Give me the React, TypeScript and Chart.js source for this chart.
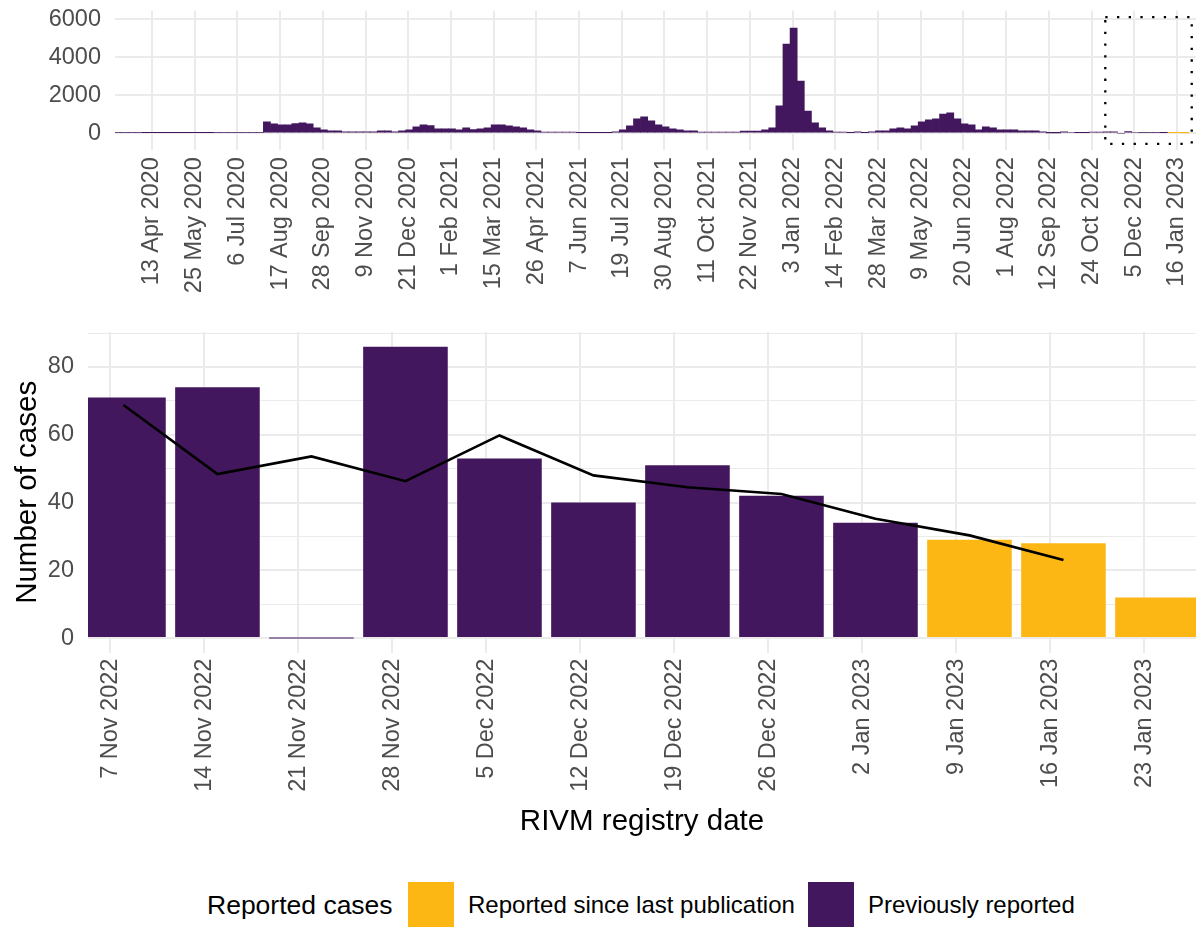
import React, { useEffect, useRef } from 'react';
import { Chart, registerables } from 'chart.js';

Chart.register(...registerables);

// ---------------- data ----------------
const MONTHS = ['Jan', 'Feb', 'Mar', 'Apr', 'May', 'Jun', 'Jul', 'Aug', 'Sep', 'Oct', 'Nov', 'Dec'];

// Overview (weekly counts), first week starting 9 Mar 2020, up to the week of 31 Oct 2022
const TOP_FIRST_WEEK = '9 Mar 2020';
const TOP_HISTORY = [
  40, 45, 45, 40, 35, 35, 30, 30, 35, 35, 35, 30, 35, 35, 40, 40, 40, 45, 45, 50, 50,
  596, 491, 439, 439, 509, 544, 491, 281, 175, 123, 123, 70, 70, 70, 70, 70, 123, 123, 70, 123,
  175, 333, 439, 404, 228, 228, 228, 175, 281, 193, 228, 290, 440, 450, 386, 340, 281, 175, 123, 60,
  60, 60, 60, 60, 30, 30, 30, 25, 25, 70, 175, 386, 754, 860, 649, 439, 333, 228, 175, 123,
  123, 60, 60, 60, 60, 60, 60, 110, 110, 110, 175, 281, 1439, 4702, 5544, 2754, 1175, 544, 281, 123,
  60, 60, 30, 70, 30, 70, 123, 123, 228, 281, 228, 386, 596, 702, 754, 1017, 1070, 754, 491, 439,
  175, 333, 281, 175, 175, 175, 123, 123, 123, 70, 20, 20, 70, 55, 25, 25, 65, 65,
];

// Detail panel
const WEEK_LABELS = [
  '7 Nov 2022', '14 Nov 2022', '21 Nov 2022', '28 Nov 2022', '5 Dec 2022', '12 Dec 2022',
  '19 Dec 2022', '26 Dec 2022', '2 Jan 2023', '9 Jan 2023', '16 Jan 2023', '23 Jan 2023',
];
const PREVIOUSLY_REPORTED = [71, 74, 0, 86, 53, 40, 51, 42, 34, null, null, null];
const REPORTED_SINCE_LAST = [null, null, null, null, null, null, null, null, null, 29, 28, 12];
const TREND = [68.8, 48.4, 53.6, 46.3, 59.8, 48.0, 44.5, 42.5, 35.2, 30.3, 23.0, null];

const TOP_TICK_LABELS = [
  '13 Apr 2020', '25 May 2020', '6 Jul 2020', '17 Aug 2020', '28 Sep 2020', '9 Nov 2020',
  '21 Dec 2020', '1 Feb 2021', '15 Mar 2021', '26 Apr 2021', '7 Jun 2021', '19 Jul 2021',
  '30 Aug 2021', '11 Oct 2021', '22 Nov 2021', '3 Jan 2022', '14 Feb 2022', '28 Mar 2022',
  '9 May 2022', '20 Jun 2022', '1 Aug 2022', '12 Sep 2022', '24 Oct 2022', '5 Dec 2022',
  '16 Jan 2023',
];
const TOP_Y_MAJOR = [0, 2000, 4000, 6000];
const TOP_Y_MINOR = [1000, 3000, 5000];
const BOTTOM_Y_MAJOR = [0, 20, 40, 60, 80];
const BOTTOM_Y_MINOR = [10, 30, 50, 70, 90];

const LEGEND_TITLE = 'Reported cases';
const SERIES_NEW = 'Reported since last publication';
const SERIES_PREV = 'Previously reported';

// ---------------- styles ----------------
const PURPLE = '#43175D';
const ORANGE = '#FDB714';
const GRID = '#EBEBEB';
const TICK_COLOR = '#4D4D4D';
const FONT = "'Liberation Sans', Arial, Helvetica, sans-serif";

function dayNum(s: string): number {
  const [d, m, y] = s.split(' ');
  return Date.UTC(+y, MONTHS.indexOf(m), +d) / 86400000;
}
function fmtDay(v: number): string {
  const dt = new Date(Math.round(v) * 86400000);
  return `${dt.getUTCDate()} ${MONTHS[dt.getUTCMonth()]} ${dt.getUTCFullYear()}`;
}

const TOP_REF = dayNum(TOP_TICK_LABELS[0]);
const BOTTOM_REF = dayNum(WEEK_LABELS[0]);

export default function App() {
  const topRef = useRef<HTMLCanvasElement>(null);
  const botRef = useRef<HTMLCanvasElement>(null);

  useEffect(() => {
    Chart.defaults.font.family = FONT;
    const first = dayNum(TOP_FIRST_WEEK);
    const allPrev = [...TOP_HISTORY, ...PREVIOUSLY_REPORTED];
    const allNew = [...TOP_HISTORY.map(() => null), ...REPORTED_SINCE_LAST];
    const topPrev = allPrev.map((v, i) => ({ x: first + 7 * i + 1, y: v }));
    const topNew = allNew.map((v, i) => ({ x: first + 7 * i + 1, y: v }));
    const tickDays = TOP_TICK_LABELS.map(dayNum);

    const zoomBox = {
      x0: dayNum(WEEK_LABELS[0]) - 0.5,
      x1: dayNum(WEEK_LABELS[WEEK_LABELS.length - 1]) + 7.5,
      y0: -560,
      y1: 6120,
    };

    const boxPlugin = {
      id: 'zoomBox',
      afterDatasetsDraw(chart: any) {
        const { ctx, scales } = chart;
        const xa = scales.x.getPixelForValue(zoomBox.x0);
        const xb = scales.x.getPixelForValue(zoomBox.x1);
        const ya = scales.y.getPixelForValue(zoomBox.y1);
        const yb = scales.y.getPixelForValue(zoomBox.y0);
        ctx.save();
        ctx.strokeStyle = '#000';
        ctx.lineWidth = 2.3;
        ctx.setLineDash([2.3, 9.4]);
        ctx.strokeRect(xa, ya, xb - xa, yb - ya);
        ctx.restore();
      },
    };

    const top = new Chart(topRef.current!, {
      type: 'bar',
      data: {
        datasets: [
          { label: SERIES_PREV, data: topPrev as any, backgroundColor: PURPLE, barPercentage: 1, categoryPercentage: 1 },
          { label: SERIES_NEW, data: topNew as any, backgroundColor: ORANGE, barPercentage: 1, categoryPercentage: 1 },
        ],
      },
      options: {
        animation: false,
        responsive: false,
        layout: { padding: { top: 10.7, left: 0, right: 0, bottom: 0 } },
        plugins: { legend: { display: false }, tooltip: { enabled: false } },
        scales: {
          x: {
            type: 'linear',
            stacked: true,
            offset: false,
            min: TOP_REF - 36.4,
            max: TOP_REF + 1026.7,
            grid: { color: GRID, lineWidth: 2, drawTicks: false, offset: false },
            border: { display: false },
            afterBuildTicks: (s: any) => { s.ticks = tickDays.map((v) => ({ value: v })); },
            afterFit: (s: any) => { s.height = 149.7; s.paddingLeft = 0; s.paddingRight = 0; },
            ticks: {
              autoSkip: false, minRotation: 90, maxRotation: 90, padding: 7,
              color: TICK_COLOR, font: { size: 23.5 },
              callback: (v: any) => fmtDay(Number(v)),
            },
          },
          y: {
            stacked: true,
            min: -897,
            max: 6455,
            grid: {
              color: GRID, drawTicks: false,
              lineWidth: (c: any) => (TOP_Y_MAJOR.includes(c.tick?.value) ? 2 : 1),
            },
            border: { display: false },
            afterBuildTicks: (s: any) => {
              s.ticks = [...TOP_Y_MAJOR, ...TOP_Y_MINOR].sort((a, b) => a - b).map((v) => ({ value: v }));
            },
            afterFit: (s: any) => { s.width = 115; s.paddingTop = 0; s.paddingBottom = 0; },
            ticks: {
              padding: 14, color: TICK_COLOR, font: { size: 23.5 },
              callback: (v: any) => (TOP_Y_MAJOR.includes(Number(v)) ? String(v) : ''),
            },
          },
        },
      },
      plugins: [boxPlugin],
    });

    const xs = WEEK_LABELS.map((l) => dayNum(l) + 1);
    const bot = new Chart(botRef.current!, {
      type: 'bar',
      data: {
        datasets: [
          {
            type: 'line', label: 'trend', stack: 'trend', order: 0,
            data: TREND.map((v, i) => ({ x: xs[i], y: v })) as any,
            borderColor: '#000', borderWidth: 2.6, pointRadius: 0, tension: 0, fill: false,
          } as any,
          {
            label: SERIES_PREV, order: 1,
            data: PREVIOUSLY_REPORTED.map((v, i) => ({ x: xs[i], y: v })) as any,
            backgroundColor: PURPLE, barPercentage: 0.9, categoryPercentage: 1, minBarLength: 1,
          },
          {
            label: SERIES_NEW, order: 1,
            data: REPORTED_SINCE_LAST.map((v, i) => ({ x: xs[i], y: v })) as any,
            backgroundColor: ORANGE, barPercentage: 0.9, categoryPercentage: 1,
          },
        ],
      },
      options: {
        animation: false,
        responsive: false,
        layout: { padding: { top: 22.1, left: 0, right: 0, bottom: 0 } },
        plugins: { legend: { display: false }, tooltip: { enabled: false } },
        scales: {
          x: {
            type: 'linear',
            stacked: true,
            offset: false,
            min: BOTTOM_REF - 1.64,
            max: BOTTOM_REF + 80.87,
            grid: { color: GRID, lineWidth: 2, drawTicks: false, offset: false },
            border: { display: false },
            afterBuildTicks: (s: any) => { s.ticks = WEEK_LABELS.map((l) => ({ value: dayNum(l) })); },
            afterFit: (s: any) => { s.height = 197.4; s.paddingLeft = 0; s.paddingRight = 0; },
            ticks: {
              autoSkip: false, minRotation: 90, maxRotation: 90, padding: 6,
              color: TICK_COLOR, font: { size: 23.5 },
              callback: (v: any) => fmtDay(Number(v)),
            },
            title: {
              display: true, text: 'RIVM registry date', color: '#000',
              font: { size: 29.5 }, padding: { top: 0, bottom: 10.3 },
            },
          },
          y: {
            stacked: true,
            min: -4.3,
            max: 90.3,
            grid: {
              color: GRID, drawTicks: false,
              lineWidth: (c: any) => (BOTTOM_Y_MAJOR.includes(c.tick?.value) ? 2 : 1),
            },
            border: { display: false },
            afterBuildTicks: (s: any) => {
              s.ticks = [...BOTTOM_Y_MAJOR, ...BOTTOM_Y_MINOR].sort((a, b) => a - b).map((v) => ({ value: v }));
            },
            afterFit: (s: any) => { s.width = 88; s.paddingTop = 0; s.paddingBottom = 0; },
            ticks: {
              padding: 14, color: TICK_COLOR, font: { size: 23.5 },
              callback: (v: any) => (BOTTOM_Y_MAJOR.includes(Number(v)) ? String(v) : ''),
            },
            title: {
              display: true, text: 'Number of cases', color: '#000',
              font: { size: 29.5 }, padding: { top: 10, bottom: 0 },
            },
          },
        },
      },
    });

    return () => { top.destroy(); bot.destroy(); };
  }, []);

  const legendText: React.CSSProperties = {
    position: 'absolute', top: 0, height: 46, lineHeight: '46px', fontSize: 24, color: '#000', whiteSpace: 'nowrap',
  };

  return (
    <div style={{ position: 'fixed', left: 0, top: 0, width: 1196, height: 927, background: '#fff', fontFamily: FONT, overflow: 'hidden' }}>
      <canvas ref={topRef} width={1196} height={300} style={{ position: 'absolute', left: 0, top: 0, width: 1196, height: 300 }} />
      <canvas ref={botRef} width={1196} height={540} style={{ position: 'absolute', left: 0, top: 310, width: 1196, height: 540 }} />
      <div style={{ position: 'absolute', left: 0, top: 882, width: 1196, height: 46 }}>
        <span style={{ ...legendText, left: 207, fontSize: 26.5 }}>{LEGEND_TITLE}</span>
        <div style={{ position: 'absolute', left: 408, top: 0, width: 46, height: 46, background: ORANGE }} />
        <span style={{ ...legendText, left: 468 }}>{SERIES_NEW}</span>
        <div style={{ position: 'absolute', left: 808, top: 0, width: 46, height: 46, background: PURPLE }} />
        <span style={{ ...legendText, left: 868 }}>{SERIES_PREV}</span>
      </div>
    </div>
  );
}
